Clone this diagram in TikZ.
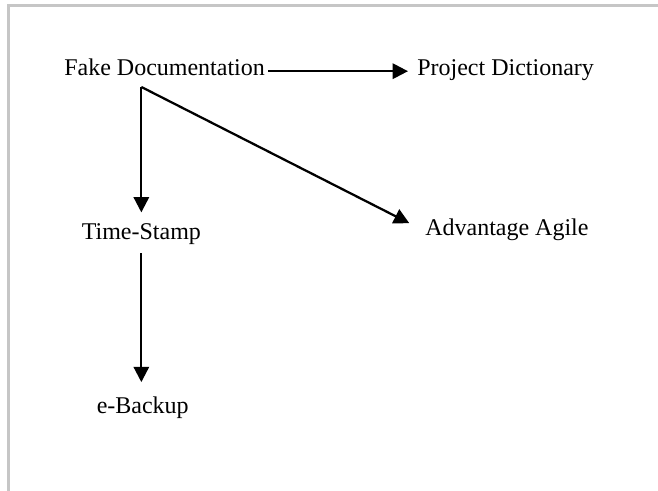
\documentclass[tikz,border=0pt]{standalone}
\usepackage{fontspec}
\setmainfont{Liberation Serif}
\usetikzlibrary{arrows.meta,calc}
\tikzset{
  lbl/.style={inner sep=0pt, text height=0.72em, text depth=0pt, font=\fontsize{18pt}{21pt}\selectfont},
  arr/.style={line width=1.7pt, -{Triangle[length=11.5pt,width=11.5pt]}},
  frame/.style={line width=2pt, draw=gray!45}
}
\begin{document}
\begin{tikzpicture}[x=0.75pt,y=-0.75pt]
\useasboundingbox (0,0) rectangle (658,491);
\draw[frame] (658,5.3) -- (8.5,5.3) -- (8.5,491);
\node[lbl,anchor=base west] (fake) at (64,76) {Fake Documentation}; \node[lbl,anchor=base west] (proj) at (417,76) {Project Dictionary};
\node[lbl,anchor=base west] (time) at (81.5,240) {Time-Stamp}; \node[lbl,anchor=base west] (adv) at (425,236) {Advantage Agile};
\node[lbl,anchor=base west] (ebak) at (96.5,414) {e-Backup};
\coordinate (split) at ($(fake.south -| time.north)+(0,10.7)$);
\draw[arr, shorten <=2.25pt, shorten >=6.75pt] (fake.east) -- (proj.west);
\draw[arr, shorten >=13.3pt] (split) -- (time.north);
\draw[arr, shorten >=13.2pt] (split) -- (adv.west);
\draw[arr, shorten <=9.75pt, shorten >=16.5pt] (time.south) -- (time.south |- ebak.north);
\end{tikzpicture}
\end{document}
